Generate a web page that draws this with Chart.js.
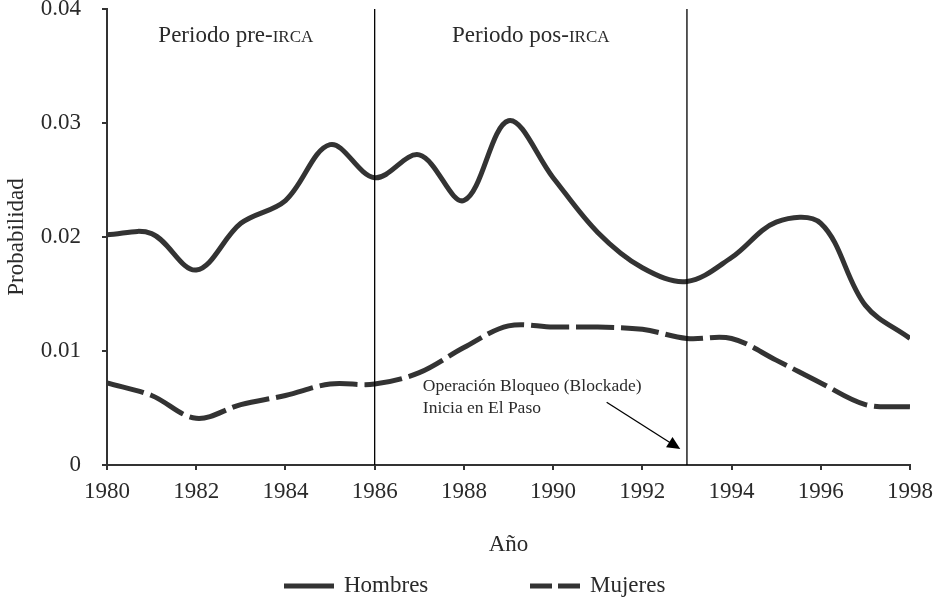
<!DOCTYPE html>
<html>
<head>
  <meta charset="UTF-8">
  <title>Probabilidad por año</title>
  <script src="https://cdn.jsdelivr.net/npm/chart.js"></script>
  <style>
    body { margin: 0; background: #fff; }
  </style>
</head>
<body>
<canvas id="probChart" width="943" height="599"></canvas>

<script>
  // datos
  var anios = [1980, 1981, 1982, 1983, 1984, 1985, 1986, 1987, 1988, 1989,
               1990, 1991, 1992, 1993, 1994, 1995, 1996, 1997, 1998];
  var hombres = [0.0202, 0.0203, 0.0171, 0.0212, 0.0232, 0.0281, 0.0252, 0.0272, 0.0232, 0.0302,
                 0.0252, 0.0204, 0.0173, 0.0161, 0.0182, 0.0213, 0.0212, 0.0140, 0.0111];
  var mujeres = [0.0072, 0.0061, 0.0041, 0.0053, 0.0061, 0.0071, 0.0071, 0.0081, 0.0103, 0.0122,
                 0.0121, 0.0121, 0.0119, 0.0111, 0.0111, 0.0092, 0.0072, 0.0053, 0.0051];
  var xTicks = [1980, 1982, 1984, 1986, 1988, 1990, 1992, 1994, 1996, 1998];
  var yTicks = [0, 0.01, 0.02, 0.03, 0.04];
  var yLabels = ['0', '0.01', '0.02', '0.03', '0.04'];
  var cortes = [1986, 1993]; // IRCA y Operación Bloqueo

  var serif = '"Liberation Serif", "Times New Roman", serif';
  var gris = '#333333';

  function puntos(vals) {
    return anios.map(function(a, i) { return { x: a, y: vals[i] }; });
  }

  var lineasCorte = cortes.map(function(c) {
    return {
      data: [{ x: c, y: 0 }, { x: c, y: 0.04 }],
      borderColor: '#000',
      borderWidth: 1.3,
      pointRadius: 0,
      tension: 0,
      order: 0
    };
  });

  // textos, flecha y leyenda
  var extras = {
    id: 'extras',
    afterDraw: function(chart) {
      var ctx = chart.ctx;
      var x = chart.scales.x, y = chart.scales.y;
      ctx.save();
      ctx.fillStyle = '#2a2a2a';
      ctx.textBaseline = 'alphabetic';

      function versalitas(a, b, cx, base) {
        ctx.font = '23px ' + serif;
        var w1 = ctx.measureText(a).width;
        ctx.font = '17px ' + serif;
        var w2 = ctx.measureText(b).width;
        var x0 = cx - (w1 + w2) / 2;
        ctx.textAlign = 'left';
        ctx.font = '23px ' + serif;
        ctx.fillText(a, x0, base);
        ctx.font = '17px ' + serif;
        ctx.fillText(b, x0 + w1, base);
      }
      var base = y.getPixelForValue(0.0371);
      versalitas('Periodo pre-', 'IRCA', (x.getPixelForValue(1980) + x.getPixelForValue(1986)) / 2 - 5, base);
      versalitas('Periodo pos-', 'IRCA', (x.getPixelForValue(1986) + x.getPixelForValue(1993)) / 2, base);

      // nota de la Operación Bloqueo
      ctx.font = '17.5px ' + serif;
      ctx.textAlign = 'left';
      var tx = x.getPixelForValue(1987.08);
      ctx.fillText('Operación Bloqueo (Blockade)', tx, y.getPixelForValue(0.00653));
      ctx.fillText('Inicia en El Paso', tx, y.getPixelForValue(0.00456));

      var x1 = x.getPixelForValue(1991.2), y1 = y.getPixelForValue(0.0055);
      var x2 = x.getPixelForValue(1992.85), y2 = y.getPixelForValue(0.0014);
      var ang = Math.atan2(y2 - y1, x2 - x1);
      ctx.strokeStyle = '#000';
      ctx.lineWidth = 1.3;
      ctx.beginPath();
      ctx.moveTo(x1, y1);
      ctx.lineTo(x2 - 10 * Math.cos(ang), y2 - 10 * Math.sin(ang));
      ctx.stroke();
      ctx.fillStyle = '#000';
      ctx.beginPath();
      ctx.moveTo(x2, y2);
      ctx.lineTo(x2 - 13 * Math.cos(ang) + 6 * Math.sin(ang), y2 - 13 * Math.sin(ang) - 6 * Math.cos(ang));
      ctx.lineTo(x2 - 13 * Math.cos(ang) - 6 * Math.sin(ang), y2 - 13 * Math.sin(ang) + 6 * Math.cos(ang));
      ctx.closePath();
      ctx.fill();

      // leyenda
      var ly = 586;
      ctx.strokeStyle = gris;
      ctx.lineWidth = 5;
      ctx.beginPath();
      ctx.moveTo(284, ly);
      ctx.lineTo(334, ly);
      ctx.stroke();
      ctx.setLineDash([22, 6]);
      ctx.beginPath();
      ctx.moveTo(530, ly);
      ctx.lineTo(580, ly);
      ctx.stroke();
      ctx.setLineDash([]);
      ctx.fillStyle = '#2a2a2a';
      ctx.font = '23px ' + serif;
      ctx.textBaseline = 'middle';
      ctx.fillText('Hombres', 344, ly);
      ctx.fillText('Mujeres', 590, ly);
      ctx.restore();
    }
  };

  var ctx = document.getElementById('probChart').getContext('2d');
  var probChart = new Chart(ctx, {
    type: 'line',
    data: {
      datasets: lineasCorte.concat([
        {
          label: 'Hombres',
          data: puntos(hombres),
          borderColor: gris,
          borderWidth: 5,
          pointRadius: 0,
          tension: 0.35,
          fill: false,
          order: 1
        },
        {
          label: 'Mujeres',
          data: puntos(mujeres),
          borderColor: gris,
          borderWidth: 5,
          borderDash: [38, 7],
          pointRadius: 0,
          tension: 0.35,
          fill: false,
          order: 1
        }
      ])
    },
    options: {
      responsive: false,
      animation: false,
      layout: { padding: { left: 0, right: 33, top: 9, bottom: 40 } },
      plugins: {
        legend: { display: false },
        tooltip: { enabled: false }
      },
      scales: {
        x: {
          type: 'linear',
          min: 1980,
          max: 1998,
          afterBuildTicks: function(s) { s.ticks = xTicks.map(function(v) { return { value: v }; }); },
          afterFit: function(s) { s.height = 94; },
          ticks: {
            autoSkip: false,
            maxRotation: 0,
            padding: 8,
            color: '#2a2a2a',
            font: { family: serif, size: 23 },
            callback: function(v) { return String(v); }
          },
          grid: { drawOnChartArea: false, tickLength: 5, color: gris, lineWidth: 2 },
          border: { color: gris, width: 2 },
          title: {
            display: true,
            text: 'Año',
            color: '#2a2a2a',
            font: { family: serif, size: 23 },
            padding: { top: 0, bottom: 0 }
          }
        },
        y: {
          min: 0,
          max: 0.04,
          afterBuildTicks: function(s) { s.ticks = yTicks.map(function(v) { return { value: v }; }); },
          afterFit: function(s) { s.width = 107; s.paddingTop = 0; s.paddingBottom = 0; },
          ticks: {
            padding: 21,
            color: '#2a2a2a',
            font: { family: serif, size: 23 },
            callback: function(v) {
              var i = yTicks.indexOf(v);
              return i >= 0 ? yLabels[i] : '';
            }
          },
          grid: { drawOnChartArea: false, tickLength: 5, color: gris, lineWidth: 2 },
          border: { color: gris, width: 2 },
          title: {
            display: true,
            text: 'Probabilidad',
            color: '#2a2a2a',
            font: { family: serif, size: 23 },
            padding: { top: 3, bottom: 0 }
          }
        }
      }
    },
    plugins: [extras]
  });
</script>
</body>
</html>
